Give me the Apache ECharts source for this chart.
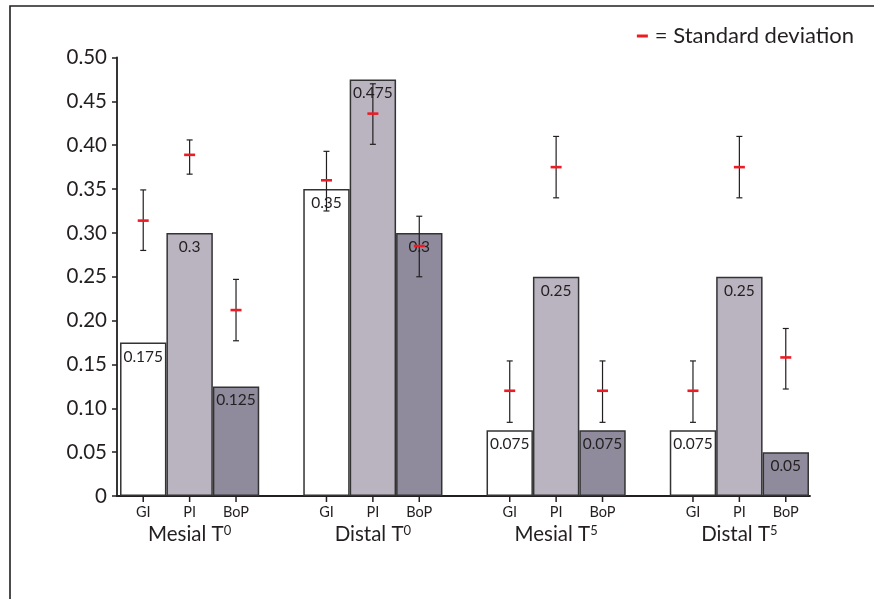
<!DOCTYPE html>
<html>
<head>
<meta charset="utf-8">
<script src="https://cdn.jsdelivr.net/npm/echarts@6/dist/echarts.min.js"></script>
<style>html,body{margin:0;padding:0;background:#fff}#c{width:874px;height:599px}</style>
</head>
<body>
<div id="c"></div>
<script>
// ---- data ----
const groupBase = ['Mesial T', 'Distal T', 'Mesial T', 'Distal T'];
const groupSup = ['0', '0', '5', '5'];
const metrics = ['GI', 'PI', 'BoP'];
const giValues = [0.175, 0.35, 0.075, 0.075];
const piValues = [0.3, 0.475, 0.25, 0.25];
const bopValues = [0.125, 0.3, 0.075, 0.05];
const giMean = [0.314, 0.36, 0.12, 0.12];
const giLow = [0.28, 0.325, 0.084, 0.084];
const giHigh = [0.349, 0.393, 0.154, 0.154];
const piMean = [0.389, 0.436, 0.375, 0.375];
const piLow = [0.367, 0.401, 0.34, 0.34];
const piHigh = [0.406, 0.47, 0.41, 0.41];
const bopMean = [0.212, 0.285, 0.12, 0.158];
const bopLow = [0.177, 0.25, 0.084, 0.122];
const bopHigh = [0.247, 0.319, 0.154, 0.191];
const yMin = 0, yMax = 0.5, yStep = 0.05;
const legendText = '= Standard deviation';

// ---- styles ----
const FONT = 'Lato';
const INK = '#231f20';
const RED = '#ed1c24';
const BAR_W = 46.4;
const barColors = ['#ffffff', '#bab4c0', '#8f8b9c'];

const categories = groupBase.map((b, i) => b + groupSup[i]);
const valuesByMetric = [giValues, piValues, bopValues];
const meanByMetric = [giMean, piMean, bopMean];
const lowByMetric = [giLow, piLow, bopLow];
const highByMetric = [giHigh, piHigh, bopHigh];

const errData = [];
for (let m = 0; m < metrics.length; m++) {
  for (let g = 0; g < categories.length; g++) {
    errData.push([g, meanByMetric[m][g], lowByMetric[m][g], highByMetric[m][g], m]);
  }
}

const chart = echarts.init(document.getElementById('c'));

const barSeries = metrics.map((name, m) => ({
  type: 'bar',
  name: name,
  xAxisIndex: 0, yAxisIndex: 0,
  data: valuesByMetric[m],
  barWidth: BAR_W,
  barGap: '0%',
  itemStyle: { color: barColors[m], borderColor: '#333', borderWidth: 1.5 },
  label: {
    show: true, position: 'insideTop', distance: 6,
    fontFamily: FONT, fontSize: 15.5, color: INK,
    formatter: p => String(p.value)
  },
  emphasis: { disabled: true },
  z: 2
}));

const errSeries = {
  type: 'custom',
  name: legendText,
  xAxisIndex: 0, yAxisIndex: 0,
  data: errData,
  z: 5,
  clip: false,
  itemStyle: { color: RED },
  renderItem: function (params, api) {
    const g = api.value(0);
    const m = api.value(4);
    const c = api.coord([g, api.value(1)]);
    const x = c[0] + (m - 1) * BAR_W;
    const yMean = c[1];
    const yLo = api.coord([g, api.value(2)])[1];
    const yHi = api.coord([g, api.value(3)])[1];
    const yBase = api.coord([g, 0])[1];
    const ink = { stroke: INK, lineWidth: 1.2 };
    return {
      type: 'group',
      children: [
        { type: 'line', shape: { x1: x, y1: yHi, x2: x, y2: yLo }, style: ink },
        { type: 'line', shape: { x1: x - 3, y1: yHi, x2: x + 3, y2: yHi }, style: ink },
        { type: 'line', shape: { x1: x - 3, y1: yLo, x2: x + 3, y2: yLo }, style: ink },
        { type: 'line', shape: { x1: x - 5.5, y1: yMean, x2: x + 5.5, y2: yMean }, style: { stroke: RED, lineWidth: 2.6 } },
        { type: 'line', shape: { x1: x, y1: yBase, x2: x, y2: yBase + 6 }, style: { stroke: INK, lineWidth: 1.5 } },
        { type: 'text', x: x, y: yBase + 16, style: { text: metrics[m], fontFamily: FONT, fontSize: 14.5, fill: INK, align: 'center', verticalAlign: 'middle' } }
      ]
    };
  }
};

chart.setOption({
  animation: false,
  backgroundColor: '#fff',
  graphic: [{
    type: 'rect', shape: { x: 10, y: 6, width: 1000, height: 800 },
    style: { fill: 'none', stroke: INK, lineWidth: 1.6 }, silent: true, z: -1
  }],
  legend: {
    right: 15, top: 20,
    data: [{ name: legendText, icon: 'rect', itemStyle: { color: RED } }],
    itemWidth: 11, itemHeight: 3,
    textStyle: { fontFamily: FONT, fontSize: 22, color: INK, padding: [0, 0, 0, 2] },
    selectedMode: false
  },
  grid: [
    { left: 98, width: 733, top: 57.5, height: 438.5 },
    { left: 117, width: 693, top: 57.5, height: 438.5 }
  ],
  xAxis: [
    {
      type: 'category', gridIndex: 0, data: categories,
      axisLine: { show: false }, axisTick: { show: false },
      axisLabel: {
        margin: 28, interval: 0,
        formatter: (v, i) => '{n|' + groupBase[i] + '}{s|' + groupSup[i] + '}',
        rich: {
          n: { fontFamily: FONT, fontSize: 20.5, color: INK },
          s: { fontFamily: FONT, fontSize: 13, color: INK, verticalAlign: 'bottom', padding: [0, 0, 8, 0] }
        }
      }
    },
    {
      type: 'value', gridIndex: 1, min: 0, max: 1,
      axisLine: { show: true, lineStyle: { color: INK, width: 1.8 } },
      axisTick: { show: false }, axisLabel: { show: false }, splitLine: { show: false }
    }
  ],
  yAxis: [
    {
      type: 'value', gridIndex: 0, min: yMin, max: yMax, interval: yStep,
      show: false
    },
    {
      type: 'value', gridIndex: 1, min: yMin, max: yMax, interval: yStep,
      axisLine: { show: true, lineStyle: { color: INK, width: 1.8 } },
      axisTick: { show: true, length: 5, lineStyle: { color: INK, width: 1.5 } },
      splitLine: { show: false },
      axisLabel: {
        margin: 10, fontFamily: FONT, fontSize: 20.5, color: INK,
        formatter: v => (v === 0 ? '0' : v.toFixed(2))
      }
    }
  ],
  series: [...barSeries, errSeries]
});
</script>
</body>
</html>
